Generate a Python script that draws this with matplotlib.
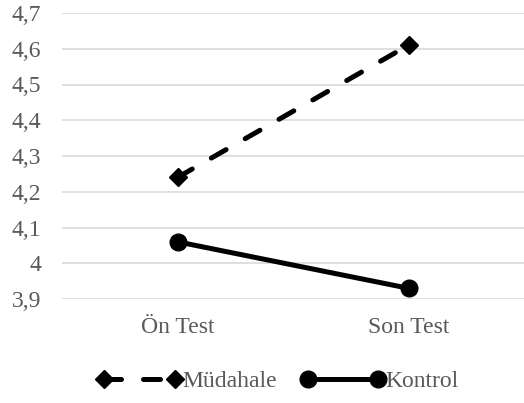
import matplotlib.pyplot as plt
import numpy as np

plt.rcParams['font.family'] = ['Liberation Serif', 'DejaVu Serif']

categories = ['Ön Test', 'Son Test']
mudahale = [4.24, 4.61]
kontrol = [4.06, 3.93]
yticks = [3.9, 4.0, 4.1, 4.2, 4.3, 4.4, 4.5, 4.6, 4.7]
ylabels = ['3,9', '4', '4,1', '4,2', '4,3', '4,4', '4,5', '4,6', '4,7']

fig = plt.figure(figsize=(5.24, 4.03), dpi=100)
ax = fig.add_axes([62 / 524, 1 - 299 / 403, 1 - 62 / 524, (299 - 13) / 403])

x = np.arange(len(categories))
ax.plot(x, mudahale, color='black', lw=3.6, linestyle=(0, (3.4, 4.4)),
        dash_capstyle='round', marker='D', markersize=9, label='Müdahale')
ax.plot(x, kontrol, color='black', lw=3.6, solid_capstyle='round',
        marker='o', markersize=12, label='Kontrol')

ax.set_xlim(-0.5, 1.5)
ax.set_ylim(3.9, 4.7)
ax.set_yticks(yticks)
ax.set_yticklabels(ylabels)
ax.set_xticks(x)
ax.set_xticklabels(categories)
ax.tick_params(length=0, labelsize=17, colors='#595959', pad=15)
ax.tick_params(axis='x', pad=13)
ax.grid(axis='y', color='#d9d9d9', lw=1.2)
ax.set_axisbelow(True)
for s in ax.spines.values():
    s.set_visible(False)

fig.legend(loc='center', bbox_to_anchor=(278 / 524, 1 - 381 / 403), ncol=2,
           frameon=False, numpoints=2, handlelength=3.6, handletextpad=0.0,
           columnspacing=1.0, fontsize=17, labelcolor='#595959')

fig.savefig('out.png', dpi=100)
